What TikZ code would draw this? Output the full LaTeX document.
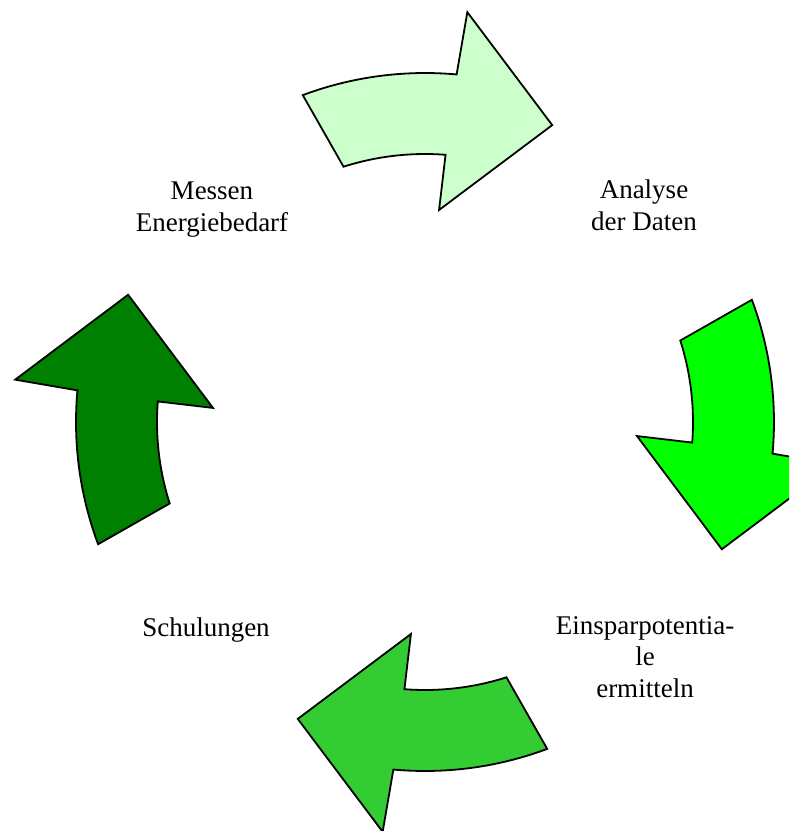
\documentclass[tikz,border=0pt]{standalone}
\usepackage{fontspec}
\setmainfont{Liberation Serif}
\usepackage{xcolor}
\usepackage{tikz}
\usetikzlibrary{positioning}
\definecolor{hellgruen}{HTML}{CCFFCC}
\definecolor{gruen}{HTML}{00FF00}
\definecolor{mittelgruen}{HTML}{33CC33}
\definecolor{dunkelgruen}{HTML}{008000}

% one curved arrow of the cycle, turned by #1
\newcommand{\kreispfeil}[2]{%
  \draw[pfeil,fill=#2,rotate=#1]
    (110.5:349) arc[start angle=110.5,end angle=84.8,radius=349pt]
    -- (84.1:412) -- (66.8:323) -- (86.2:212.5) -- (85.6:268)
    arc[start angle=85.6,end angle=107.7,radius=268pt] -- cycle;}

\begin{document}
\begin{tikzpicture}[x=1pt,y=1pt,
  pfeil/.style={draw=black,line width=1.8pt},
  lbl/.style={align=center,inner sep=0pt,anchor=base,
              font=\fontsize{27}{31.5}\selectfont}
]
\useasboundingbox (-425,-409) rectangle (375,422);
\kreispfeil{0}{hellgruen}
\begin{scope}
  \clip (-425,-409) rectangle (364,422);
  \kreispfeil{-90}{gruen}
\end{scope}
\kreispfeil{-180}{mittelgruen}
\kreispfeil{90}{dunkelgruen}
\node[lbl] (messen) at (-213,191) {Messen\\Energiebedarf};
\node[lbl] (analyse) at (219,192) {Analyse\\der Daten};
\node[lbl] (einsparen) at (220,-275) {Einsparpotentia-\\le\\ermitteln};
\node[lbl] (schulung) at (-219,-214) {Schulungen};
\end{tikzpicture}
\end{document}
